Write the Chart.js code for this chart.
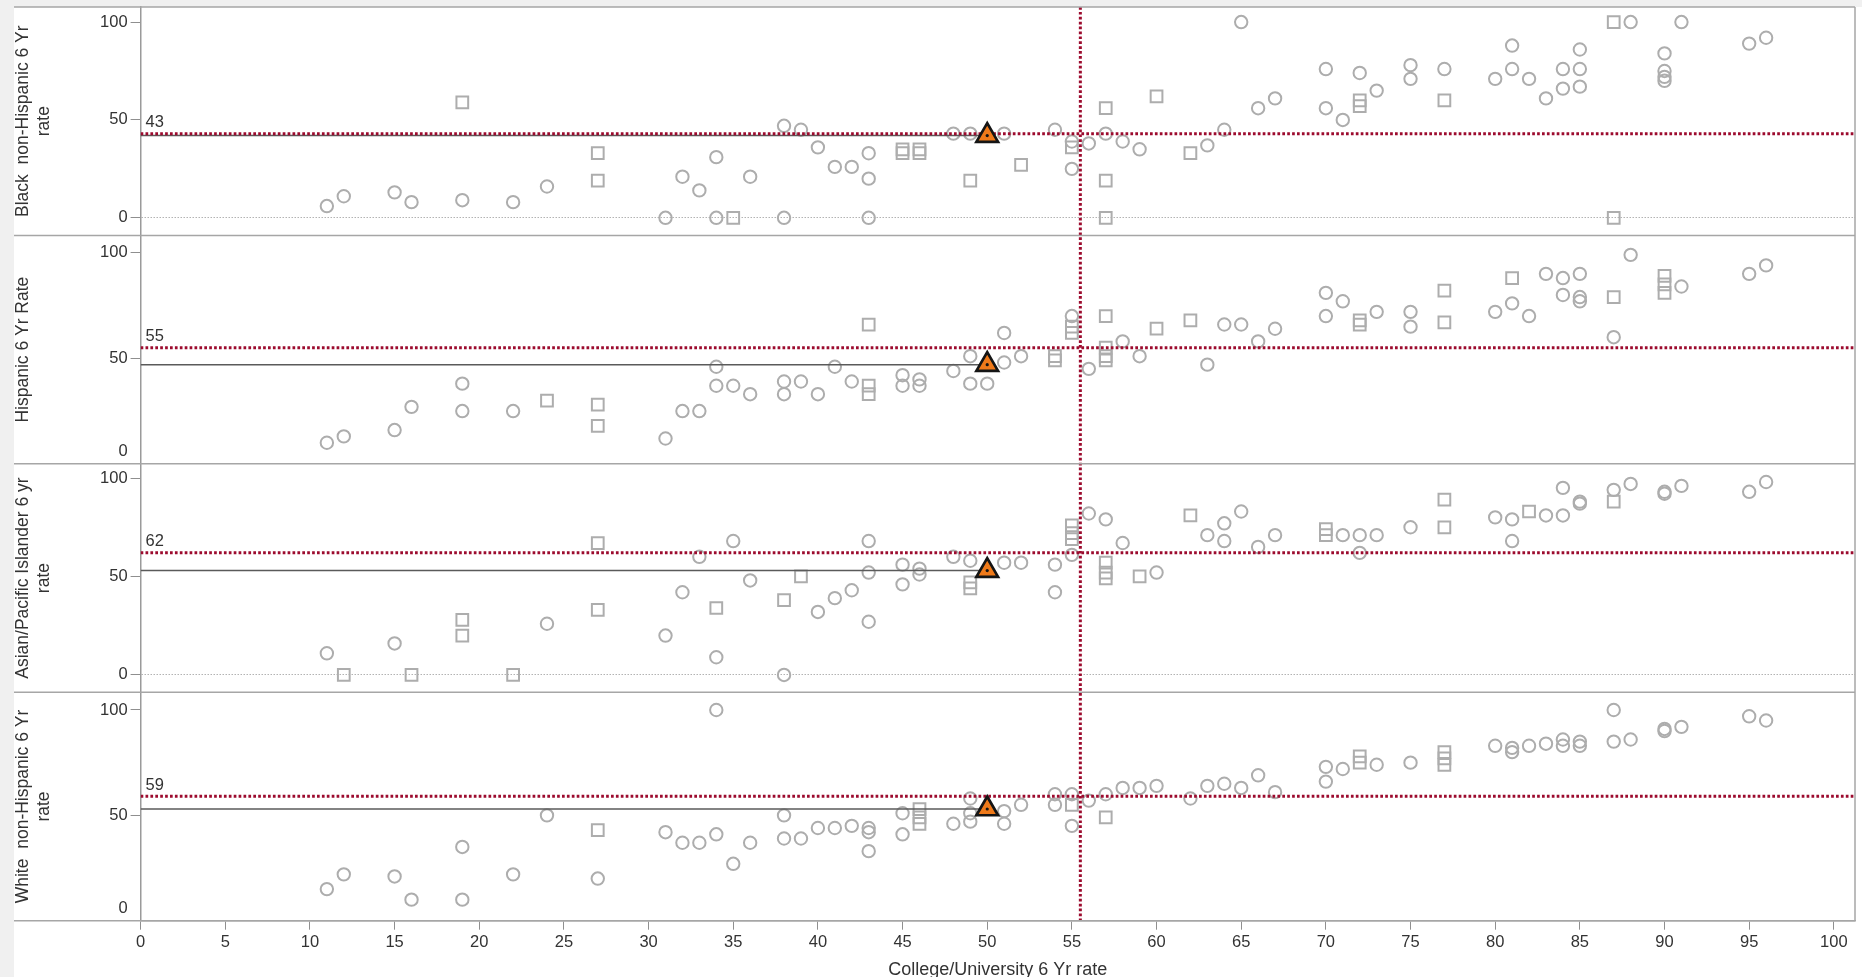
<!DOCTYPE html>
<html>
<head>
<meta charset="utf-8">
<title>6-year graduation rates by student group</title>
<script src="https://cdn.jsdelivr.net/npm/chart.js@4.4.1/dist/chart.umd.min.js"></script>
<style>
  html, body { margin: 0; padding: 0; background: #f0f0f0; }
  #wrap { position: absolute; left: 0; top: 0; width: 1862px; height: 977px; }
  canvas { display: block; }
</style>
</head>
<body>
<div id="wrap"><canvas id="rates" width="1862" height="977"></canvas></div>
<script>
// ---- Data: each college's overall 6-year rate (x) vs. the rate of one student group (y) ----
const xTickValues = [0, 5, 10, 15, 20, 25, 30, 35, 40, 45, 50, 55, 60, 65, 70, 75, 80, 85, 90, 95, 100];
const yTickValues = [0, 50, 100];

const blackCircles = [[11,6],[12,11],[15,13],[16,8],[19,9],[22,8],[24,16],[31,0],[32,21],[33,14],[34,31],[34,0],[36,21],[38,47],[38,0],[39,45],[40,36],[41,26],[42,26],[43,33],[43,20],[43,0],[48,43],[49,43],[51,43],[54,45],[55,39],[55,25],[56,38],[57,43],[58,39],[59,35],[63,37],[64,45],[65,100],[66,56],[67,61],[70,76],[70,56],[71,50],[72,74],[73,65],[75,78],[75,71],[77,76],[80,71],[81,88],[81,76],[82,71],[83,61],[84,76],[84,66],[85,86],[85,76],[85,67],[88,100],[90,84],[90,75],[90,72],[90,70],[91,100],[95,89],[96,92]];
const blackSquares = [[19,59],[27,33],[27,19],[35,0],[45,35],[45,33],[46,35],[46,33],[49,19],[52,27],[55,36],[57,56],[57,19],[57,0],[60,62],[62,33],[72,60],[72,57],[77,60],[87,100],[87,0]];

const hispanicCircles = [[11,10],[12,13],[15,16],[16,27],[19,38],[19,25],[22,25],[31,12],[32,25],[33,25],[34,46],[34,37],[35,37],[36,33],[38,39],[38,33],[39,39],[40,33],[41,46],[42,39],[45,42],[45,37],[46,40],[46,37],[48,44],[49,51],[49,38],[50,38],[51,62],[51,48],[52,51],[55,70],[56,45],[58,58],[59,51],[63,47],[64,66],[65,66],[66,58],[67,64],[70,81],[70,70],[71,77],[73,72],[75,72],[75,65],[80,72],[81,76],[82,70],[83,90],[84,88],[84,80],[85,90],[85,79],[85,77],[87,60],[88,99],[91,84],[95,90],[96,94]];
const hispanicSquares = [[24,30],[27,28],[27,18],[43,66],[43,37],[43,33],[54,51],[54,49],[55,65],[55,62],[57,70],[57,55],[57,51],[57,49],[60,64],[62,68],[72,68],[72,66],[77,82],[77,67],[81,88],[87,79],[90,89],[90,85],[90,81]];

const asianCircles = [[11,11],[15,16],[24,26],[31,20],[32,42],[33,60],[34,9],[35,68],[36,48],[38,0],[40,32],[41,39],[42,43],[43,68],[43,52],[43,27],[45,56],[45,46],[46,54],[46,51],[48,60],[49,58],[51,57],[52,57],[54,56],[54,42],[55,61],[56,82],[57,79],[58,67],[60,52],[63,71],[64,77],[64,68],[65,83],[66,65],[67,71],[71,71],[72,71],[72,62],[73,71],[75,75],[80,80],[81,79],[81,68],[83,81],[84,81],[84,95],[85,88],[85,87],[87,94],[88,97],[90,93],[90,92],[91,96],[95,93],[96,98]];
const asianSquares = [[12,0],[16,0],[19,28],[19,20],[22,0],[27,67],[27,33],[34,34],[38,38],[39,50],[49,47],[49,44],[55,76],[55,72],[55,69],[57,57],[57,52],[57,49],[59,50],[62,81],[70,74],[70,71],[77,89],[77,75],[82,83],[87,88]];

const whiteCircles = [[11,15],[12,22],[15,21],[16,10],[19,35],[19,10],[22,22],[24,50],[27,20],[31,42],[32,37],[33,37],[34,100],[34,41],[35,27],[36,37],[38,50],[38,39],[39,39],[40,44],[41,44],[42,45],[43,44],[43,42],[43,33],[45,51],[45,41],[48,46],[49,58],[49,51],[49,47],[51,52],[51,46],[52,55],[54,60],[54,55],[55,60],[55,45],[56,57],[57,60],[58,63],[59,63],[60,64],[62,58],[63,64],[64,65],[65,63],[66,69],[67,61],[70,73],[70,66],[71,72],[73,74],[75,75],[80,83],[81,82],[81,80],[82,83],[83,84],[84,86],[84,83],[85,85],[85,83],[87,100],[87,85],[88,86],[90,91],[90,90],[91,92],[95,97],[96,95]];
const whiteSquares = [[27,43],[46,53],[46,49],[46,46],[55,55],[57,49],[72,78],[72,75],[77,80],[77,77],[77,74]];

// Group averages (red reference lines), in panel order: Black, Hispanic, Asian/PI, White
const groupAverages = [43, 55, 62, 59];
// Highlighted college: overall rate and its rate for each group
const selectedCollegeRate = 50;
const selectedGroupRates = [42, 47, 53, 53];
// Average overall rate across all colleges (vertical red line)
const overallAverageRate = 55.5;

const panelTitles = [
  ['Black  non-Hispanic 6 Yr', 'rate'],
  'Hispanic 6 Yr Rate',
  ['Asian/Pacific Islander 6 yr', 'rate'],
  ['White  non-Hispanic 6 Yr', 'rate']
];
const xAxisTitle = 'College/University 6 Yr rate';

// ---- Presentation ----
const FONT = '"Liberation Sans", Arial, Helvetica, sans-serif';
const TEXT = '#333333';
const FRAME = '#a6a6a6';
const MARK_GRAY = '#adadad';
const AVG_RED = '#9c0b2e';
const X_MAX = 101.25;

const panelSpecs = [
  { id: 'yBlack',    min: -9,   max: 107.7, zeroLine: true,  circles: blackCircles,    squares: blackSquares },
  { id: 'yHispanic', min: 0,    max: 108.2, zeroLine: false, circles: hispanicCircles, squares: hispanicSquares },
  { id: 'yAsian',    min: -8.8, max: 107.2, zeroLine: true,  circles: asianCircles,    squares: asianSquares },
  { id: 'yWhite',    min: 0,    max: 108.4, zeroLine: false, circles: whiteCircles,    squares: whiteSquares }
];

const toPoints = arr => arr.map(([x, y]) => ({ x, y }));

const datasets = [];
panelSpecs.forEach((p, i) => {
  datasets.push({
    type: 'scatter', yAxisID: p.id, order: 4,
    data: toPoints(p.circles),
    pointStyle: 'circle', pointRadius: 6.2, pointBorderWidth: 2,
    pointBackgroundColor: 'rgba(0,0,0,0)', pointBorderColor: MARK_GRAY
  });
  datasets.push({
    type: 'scatter', yAxisID: p.id, order: 4,
    data: toPoints(p.squares),
    pointStyle: 'rect', pointRadius: 8.3, pointBorderWidth: 2,
    pointBackgroundColor: 'rgba(0,0,0,0)', pointBorderColor: MARK_GRAY
  });
  // selected college reference line from the axis to its mark
  datasets.push({
    type: 'line', yAxisID: p.id, order: 3,
    data: [{ x: xTickValues[0], y: selectedGroupRates[i] }, { x: selectedCollegeRate, y: selectedGroupRates[i] }],
    borderColor: '#5a5a5a', borderWidth: 1.5, pointRadius: 0, fill: false
  });
  // group average line
  datasets.push({
    type: 'line', yAxisID: p.id, order: 2,
    data: [{ x: xTickValues[0], y: groupAverages[i] }, { x: X_MAX, y: groupAverages[i] }],
    borderColor: AVG_RED, borderWidth: 3, borderDash: [2.7, 2.2], pointRadius: 0, fill: false
  });
  // selected college mark
  datasets.push({
    type: 'scatter', yAxisID: p.id, order: 1,
    data: [{ x: selectedCollegeRate, y: selectedGroupRates[i] }],
    pointStyle: 'triangle', pointRadius: 12.5, pointBorderWidth: 2.7,
    pointBackgroundColor: '#ef7a1a', pointBorderColor: '#151515'
  });
  datasets.push({
    type: 'scatter', yAxisID: p.id, order: 0,
    data: [{ x: selectedCollegeRate, y: selectedGroupRates[i] }],
    pointStyle: 'circle', pointRadius: 1.6, pointBorderWidth: 0,
    pointBackgroundColor: '#151515'
  });
});

const scales = {
  x: {
    type: 'linear', position: 'bottom', min: 0, max: X_MAX,
    afterBuildTicks: s => { s.ticks = xTickValues.map(v => ({ value: v })); },
    afterFit: s => { s.height = 56.3; s.paddingLeft = 0; s.paddingRight = 0; },
    grid: { display: true, drawOnChartArea: false, drawTicks: true, tickLength: 9, tickColor: '#8f8f8f', tickWidth: 1 },
    border: { display: true, color: FRAME, width: 1.5 },
    ticks: { color: TEXT, font: { family: FONT, size: 16.5 }, padding: 3, maxRotation: 0, autoSkip: false },
    title: { display: true, text: xAxisTitle, color: TEXT, font: { family: FONT, size: 18, lineHeight: 1.0 }, padding: { top: 0, bottom: -2 } }
  }
};

panelSpecs.forEach((p, i) => {
  scales[p.id] = {
    type: 'linear', position: 'left', stack: 'groups', stackWeight: 1,
    weight: panelSpecs.length - i,
    min: p.min, max: p.max,
    afterBuildTicks: s => { s.ticks = yTickValues.map(v => ({ value: v })); },
    afterFit: s => { s.width = 128.6; s.paddingTop = 0; s.paddingBottom = 0; },
    grid: {
      display: true, drawOnChartArea: true, drawTicks: true,
      color: ctx => (p.zeroLine && ctx.tick && ctx.tick.value === 0) ? '#b3b3b3' : 'rgba(0,0,0,0)',
      lineWidth: 1, tickLength: 10, tickWidth: 1, tickColor: '#8f8f8f'
    },
    border: { display: true, color: '#9a9a9a', width: 1.5, dash: [1.5, 1.5] },
    ticks: {
      color: TEXT, padding: 3, autoSkip: false,
      font: ctx => ({ family: FONT, size: 16.5,
        lineHeight: (!p.zeroLine && ctx.tick && ctx.tick.value === 0) ? '24px' : 1.2 }),
      callback: v => (!p.zeroLine && v === 0) ? ['0', ''] : String(v)
    },
    title: { display: true, text: panelTitles[i], color: TEXT,
      font: { family: FONT, size: 17.5, lineHeight: 1.22 }, padding: { top: 0, bottom: 0 } }
  };
});

const framePlugin = {
  id: 'panelFrame',
  beforeDraw(chart) {
    const { ctx, width, height } = chart;
    ctx.save();
    ctx.fillStyle = '#f0f0f0';
    ctx.fillRect(0, 0, width, height);
    ctx.fillStyle = '#ffffff';
    ctx.fillRect(14, 7, width - 14, height - 7);
    ctx.restore();
  },
  afterDatasetsDraw(chart) {
    const { ctx, chartArea: a, scales: sc } = chart;
    ctx.save();
    // overall average (vertical)
    const xPix = sc.x.getPixelForValue(overallAverageRate);
    ctx.strokeStyle = AVG_RED;
    ctx.lineWidth = 3;
    ctx.setLineDash([2.7, 2.2]);
    ctx.beginPath();
    ctx.moveTo(xPix, a.top);
    ctx.lineTo(xPix, a.bottom);
    ctx.stroke();
    ctx.setLineDash([]);
    // group average labels
    ctx.fillStyle = TEXT;
    ctx.font = '16.5px ' + FONT;
    ctx.textAlign = 'left';
    ctx.textBaseline = 'alphabetic';
    panelSpecs.forEach((p, i) => {
      const y = sc[p.id].getPixelForValue(groupAverages[i]);
      ctx.fillText(String(groupAverages[i]), a.left + 5, y - 6.5);
    });
    ctx.restore();
  },
  afterDraw(chart) {
    const { ctx, chartArea: a, scales: sc } = chart;
    ctx.save();
    ctx.strokeStyle = FRAME;
    ctx.lineWidth = 1.5;
    const seg = (x1, y1, x2, y2) => { ctx.beginPath(); ctx.moveTo(x1, y1); ctx.lineTo(x2, y2); ctx.stroke(); };
    panelSpecs.forEach(p => seg(14, sc[p.id].top, a.right, sc[p.id].top));
    seg(14, a.bottom, a.right, a.bottom);
    seg(a.right, a.top, a.right, a.bottom);
    ctx.restore();
  }
};

new Chart(document.getElementById('rates'), {
  type: 'scatter',
  data: { datasets },
  options: {
    responsive: false,
    maintainAspectRatio: false,
    devicePixelRatio: 1,
    animation: false,
    events: [],
    layout: { autoPadding: false, padding: { left: 12, top: 7, right: 7, bottom: 0 } },
    plugins: { legend: { display: false }, tooltip: { enabled: false }, title: { display: false } },
    scales
  },
  plugins: [framePlugin]
});
</script>
</body>
</html>
